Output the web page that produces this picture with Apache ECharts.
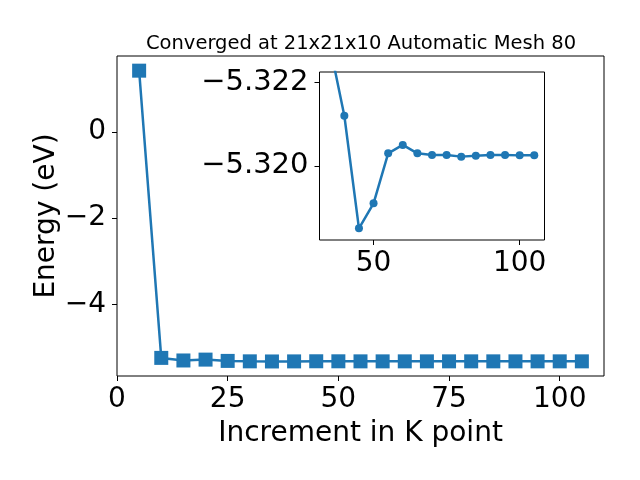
<!DOCTYPE html>
<html>
<head>
<meta charset="utf-8">
<script src="https://cdn.jsdelivr.net/npm/echarts@6/dist/echarts.min.js"></script>
<style>html,body{margin:0;padding:0;background:#fff}#c{width:640px;height:480px}</style>
</head>
<body>
<div id="c"></div>
<script>
const titleText = 'Converged at 21x21x10 Automatic Mesh 80';
const xName = 'Increment in K point';
const yName = 'Energy (eV)';
const kPoints = [5,10,15,20,25,30,35,40,45,50,55,60,65,70,75,80,85,90,95,100,105];
const energy = [1.42,-5.24,-5.30,-5.28,-5.31,-5.32,-5.3229,-5.3212,-5.3185,-5.3191,-5.3203,-5.3205,-5.3203,-5.32026,-5.32026,-5.32022,-5.32024,-5.32026,-5.32026,-5.32025,-5.32025];
const insetK = [35,40,45,50,55,60,65,70,75,80,85,90,95,100,105];
const insetE = [-5.3229,-5.3212,-5.3185,-5.3191,-5.3203,-5.3205,-5.3203,-5.32026,-5.32026,-5.32022,-5.32024,-5.32026,-5.32026,-5.32025,-5.32025];
const mainXTicks = [0,25,50,75,100];
const mainYTicks = [-4,-2,0];
const insetXTicks = [50,100];
const insetYTicks = [-5.322,-5.320];

const FONT = 'DejaVu Sans';
const COLOR = '#1f77b4';
const TICK_FS = 28;
const fmtMinus = (v, d) => Number(v).toFixed(d).replace('-', '\u2212');

const chart = echarts.init(document.getElementById('c'), null, {renderer: 'canvas'});
const tickStyle = {show: true, inside: false, length: 5, lineStyle: {color: '#000', width: 1}};
const hiddenLine = {show: false, onZero: false};
chart.setOption({
  animation: false,
  backgroundColor: '#fff',
  title: {
    text: titleText, left: 356, top: 29, textAlign: 'center',
    textStyle: {fontFamily: FONT, fontSize: 19.5, fontWeight: 'normal', color: '#000'}
  },
  grid: [
    {left: 117, top: 56, width: 487, height: 320, show: true, borderColor: '#000', borderWidth: 1, backgroundColor: 'transparent'},
    {left: 319.5, top: 72, width: 225, height: 168, show: true, borderColor: '#000', borderWidth: 1, backgroundColor: '#fff', z: 10}
  ],
  xAxis: [
    {
      type: 'value', gridIndex: 0, min: 0, max: 110,
      name: xName, nameLocation: 'middle', nameGap: 44, nameMoveOverlap: false,
      nameTextStyle: {fontFamily: FONT, fontSize: 28, color: '#000'},
      axisLine: hiddenLine, splitLine: {show: false},
      axisTick: Object.assign({customValues: mainXTicks}, tickStyle),
      axisLabel: {customValues: mainXTicks, fontFamily: FONT, fontSize: TICK_FS, color: '#000', margin: 10, formatter: v => fmtMinus(v, 0)}
    },
    {
      type: 'value', gridIndex: 1, min: 31.5, max: 108.5, z: 10,
      axisLine: hiddenLine, splitLine: {show: false},
      axisTick: Object.assign({customValues: insetXTicks}, tickStyle),
      axisLabel: {customValues: insetXTicks, fontFamily: FONT, fontSize: TICK_FS, color: '#000', margin: 10, formatter: v => fmtMinus(v, 0)}
    }
  ],
  yAxis: [
    {
      type: 'value', gridIndex: 0, min: -5.66, max: 1.76,
      name: yName, nameLocation: 'middle', nameGap: 56, nameMoveOverlap: false,
      nameTextStyle: {fontFamily: FONT, fontSize: 28, color: '#000'},
      axisLine: hiddenLine, splitLine: {show: false},
      axisTick: Object.assign({customValues: mainYTicks}, tickStyle),
      axisLabel: {customValues: mainYTicks, fontFamily: FONT, fontSize: TICK_FS, color: '#000', margin: 11, formatter: v => fmtMinus(v, 0)}
    },
    {
      type: 'value', gridIndex: 1, min: -5.32225, max: -5.31822, inverse: true, z: 10,
      axisLine: hiddenLine, splitLine: {show: false},
      axisTick: Object.assign({customValues: insetYTicks}, tickStyle),
      axisLabel: {customValues: insetYTicks, fontFamily: FONT, fontSize: 29, color: '#000', margin: 11, formatter: v => fmtMinus(v, 3)}
    }
  ],
  series: [
    {
      type: 'line', xAxisIndex: 0, yAxisIndex: 0,
      data: kPoints.map((k, i) => [k, energy[i]]),
      symbol: 'rect', symbolSize: 14, showAllSymbol: true,
      lineStyle: {color: COLOR, width: 2.5}, itemStyle: {color: COLOR},
      z: 2
    },
    {
      type: 'line', xAxisIndex: 1, yAxisIndex: 1, clip: true,
      data: insetK.map((k, i) => [k, insetE[i]]),
      symbol: 'circle', symbolSize: 8, showAllSymbol: true,
      lineStyle: {color: COLOR, width: 2.5}, itemStyle: {color: COLOR},
      z: 12
    }
  ]
});
</script>
</body>
</html>
